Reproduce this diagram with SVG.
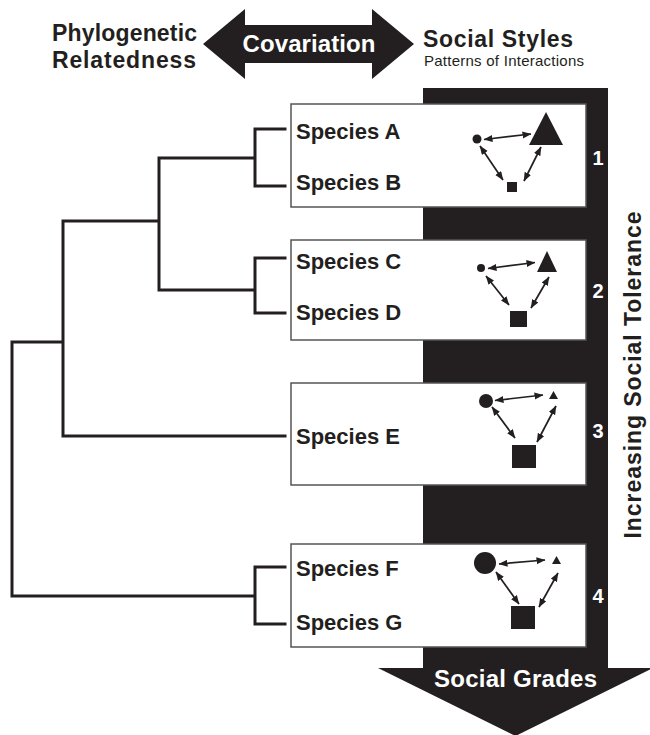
<svg xmlns="http://www.w3.org/2000/svg" width="650" height="735" viewBox="0 0 650 735">
<style>
.hd{font-family:"Liberation Sans",Arial,sans-serif;font-weight:bold;font-size:23px;fill:#231f20}
.sub{font-family:"Liberation Sans",Arial,sans-serif;font-size:15px;fill:#231f20}
.wt{font-family:"Liberation Sans",Arial,sans-serif;font-weight:bold;fill:#fff}
.sp{font-family:"Liberation Sans",Arial,sans-serif;font-weight:bold;font-size:22px;fill:#231f20}
.box{fill:#fff;stroke:#555;stroke-width:1.5}
.tree{fill:none;stroke:#231f20;stroke-width:3;stroke-linecap:square}
.ia{stroke:#231f20;stroke-width:1.7;marker-start:url(#ah);marker-end:url(#ah)}
.ic{fill:#231f20}
</style>
<defs>
<marker id="ah" markerUnits="userSpaceOnUse" markerWidth="9" markerHeight="8" refX="8.5" refY="3.5" orient="auto-start-reverse">
<path d="M0,0 L9,3.5 L0,7 Z" fill="#231f20"/>
</marker>
</defs>

<g id="header">
<text class="hd" x="52" y="41" textLength="145">Phylogenetic</text>
<text class="hd" x="52" y="68" textLength="144">Relatedness</text>
<path d="M203,44 L245,9 V25 H372 V9 L414,44 L372,79 V63 H245 V79 Z" fill="#231f20"/>
<text class="wt" x="309" y="52" font-size="24" text-anchor="middle" textLength="133">Covariation</text>
<text class="hd" x="423" y="47" font-size="24" textLength="150">Social Styles</text>
<text class="sub" x="424" y="66" textLength="160">Patterns of Interactions</text>
</g>

<g id="grade-arrow">
<path d="M423,88 H608 V668 H653 L515.5,736 L378,668 H423 Z" fill="#231f20"/>
<text class="wt" x="515.5" y="687" font-size="24" text-anchor="middle" textLength="163">Social Grades</text>
<text class="wt" x="598" y="165" font-size="20" text-anchor="middle">1</text>
<text class="wt" x="598" y="298" font-size="20" text-anchor="middle">2</text>
<text class="wt" x="598" y="438" font-size="20" text-anchor="middle">3</text>
<text class="wt" x="598" y="603" font-size="20" text-anchor="middle">4</text>
</g>

<g id="tolerance-label">
<text class="hd" transform="translate(641,375) rotate(-90)" text-anchor="middle" font-size="24" textLength="327">Increasing Social Tolerance</text>
</g>

<g id="connectors">
<path class="tree" d="M285,129 H255 V186 H285 M255,158 H159 V290 H255 M285,258 H255 V313 H285 M159,221 H63 V436 H285 M63,342 H12 V596 H255 M285,567 H255 V624 H285"/>
</g>

<g id="grade1">
<rect class="box" x="291" y="104" width="295" height="103"/>
<text class="sp" x="296" y="139">Species A</text>
<text class="sp" x="296" y="190">Species B</text>
<circle class="ic" cx="477" cy="139" r="4.5"/>
<path class="ic" d="M546,112 L563,145 L529,145 Z"/>
<rect class="ic" x="507" y="182" width="10" height="10"/>
<line class="ia" x1="484" y1="139.5" x2="531" y2="134"/>
<line class="ia" x1="480" y1="146" x2="503" y2="180"/>
<line class="ia" x1="541" y1="147" x2="524" y2="181"/>
</g>

<g id="grade2">
<rect class="box" x="291" y="240" width="295" height="100"/>
<text class="sp" x="296" y="269">Species C</text>
<text class="sp" x="296" y="320">Species D</text>
<circle class="ic" cx="481" cy="268" r="4"/>
<path class="ic" d="M547,251 L557,272 L537,272 Z"/>
<rect class="ic" x="510" y="311" width="17" height="16"/>
<line class="ia" x1="488" y1="268.5" x2="535" y2="262.5"/>
<line class="ia" x1="486" y1="276" x2="509" y2="305"/>
<line class="ia" x1="549" y1="277" x2="531" y2="308"/>
</g>

<g id="grade3">
<rect class="box" x="291" y="383" width="295" height="102"/>
<text class="sp" x="296" y="444">Species E</text>
<circle class="ic" cx="486" cy="401" r="7"/>
<path class="ic" d="M553.5,391 L558,399 L549,399 Z"/>
<rect class="ic" x="512" y="445" width="24" height="23"/>
<line class="ia" x1="495" y1="400.5" x2="543" y2="395"/>
<line class="ia" x1="492" y1="407" x2="515" y2="438"/>
<line class="ia" x1="556" y1="406" x2="537" y2="442"/>
</g>

<g id="grade4">
<rect class="box" x="291" y="544" width="295" height="103"/>
<text class="sp" x="296" y="576">Species F</text>
<text class="sp" x="296" y="630">Species G</text>
<circle class="ic" cx="485" cy="563" r="11"/>
<path class="ic" d="M556.5,556 L561,564 L552,564 Z"/>
<rect class="ic" x="511" y="606" width="24" height="23"/>
<line class="ia" x1="499" y1="564" x2="545" y2="560"/>
<line class="ia" x1="496" y1="572" x2="519" y2="604"/>
<line class="ia" x1="558" y1="573" x2="539" y2="607"/>
</g>
</svg>
